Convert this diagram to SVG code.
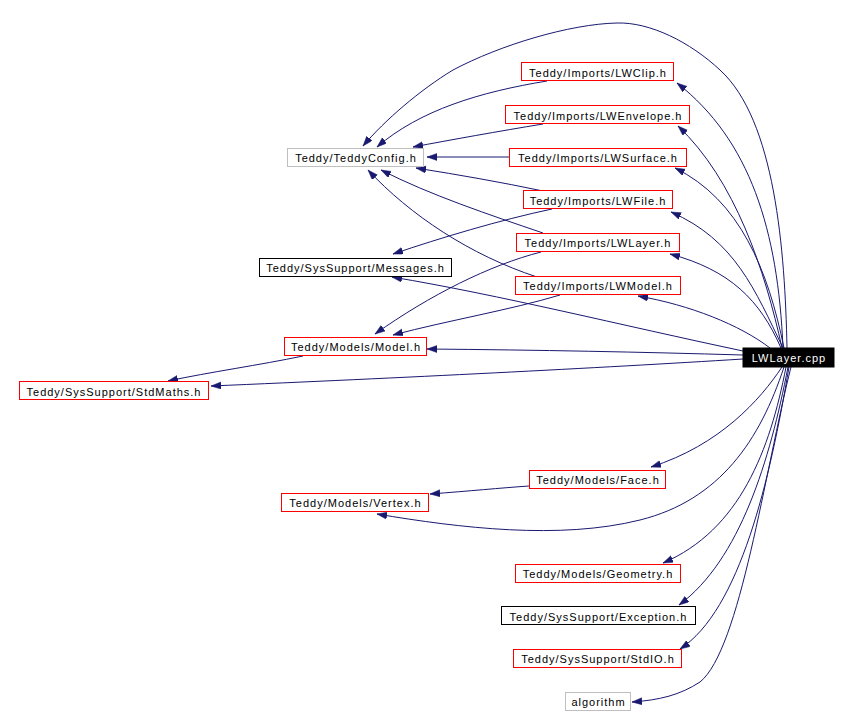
<svg xmlns="http://www.w3.org/2000/svg" width="849" height="717" viewBox="0 0 849 717">
<style>
.e{fill:none;stroke:#191970;stroke-width:1;marker-end:url(#a)}
rect.b{fill:#ffffff;stroke-width:1}
text{font-family:"Liberation Sans",Arial,sans-serif;font-size:11px;letter-spacing:1px;text-anchor:middle;fill:#000000}
</style>
<defs>
<marker id="a" markerUnits="userSpaceOnUse" markerWidth="11" markerHeight="8" refX="10" refY="3.5" orient="auto">
<path d="M0,0 L10,3.5 L0,7 z" fill="#191970" stroke="#191970" stroke-width="0.5"/>
</marker>
</defs>
<rect width="849" height="717" fill="#ffffff"/>
<g id="edges">
<path class="e" d="M787,348 C785,250 775,120 720,70 C690,42 650,22 617,23 C570,24 500,45 453,70 C420,90 385,120 363,146"/>
<path class="e" d="M783,348 C778,230 750,140 677,83"/>
<path class="e" d="M782,348 C765,270 735,180 678,126"/>
<path class="e" d="M784,348 C768,270 740,200 675,168"/>
<path class="e" d="M783,348 C755,290 735,240 671,212"/>
<path class="e" d="M781,348 C760,300 730,270 670,254"/>
<path class="e" d="M770,348 C740,325 690,305 638,296"/>
<path class="e" d="M743,351 C620,325 500,295 392,277"/>
<path class="e" d="M743,355 C640,352 540,350 427,349"/>
<path class="e" d="M743,359 C600,368 400,378 211,386"/>
<path class="e" d="M782,367 C760,400 720,445 651,467"/>
<path class="e" d="M784,367 C760,440 720,500 640,520 C560,540 460,528 377,514"/>
<path class="e" d="M786,367 C770,450 740,530 663,563"/>
<path class="e" d="M788,367 C770,460 740,560 679,605"/>
<path class="e" d="M789,367 C770,480 740,610 680,649"/>
<path class="e" d="M791,367 C765,470 740,650 700,682 C680,695 660,700 632,702"/>
<path class="e" d="M547,81 C480,92 420,110 377,147"/>
<path class="e" d="M543,124 C500,131 450,140 413,147"/>
<path class="e" d="M509,157 L427,157"/>
<path class="e" d="M543,191 C500,182 460,175 416,168"/>
<path class="e" d="M543,233 C490,215 430,195 381,170"/>
<path class="e" d="M537,277 C470,255 410,215 368,170"/>
<path class="e" d="M552,209 C500,220 440,238 393,254"/>
<path class="e" d="M541,252 C490,265 430,295 375,334"/>
<path class="e" d="M560,295 C510,310 450,320 393,335"/>
<path class="e" d="M303,356 C260,365 210,372 168,381"/>
<path class="e" d="M529,486 C500,488 470,491 430,494"/>
</g>
<g id="lwlayer_cpp"><rect x="743" y="348" width="91" height="19" fill="#000000" stroke="#000000"/><text x="789" y="362" style="fill:#ffffff">LWLayer.cpp</text></g>
<g id="teddyconfig"><rect class="b" x="287.5" y="148.5" width="136" height="18" stroke="#bfbfbf"/><text x="356" y="162">Teddy/TeddyConfig.h</text></g>
<g id="lwclip"><rect class="b" x="521.5" y="62.5" width="152" height="18" stroke="#ff0000"/><text x="598" y="76.5">Teddy/Imports/LWClip.h</text></g>
<g id="lwenvelope"><rect class="b" x="505.5" y="105.5" width="184" height="18" stroke="#ff0000"/><text x="598" y="119.5">Teddy/Imports/LWEnvelope.h</text></g>
<g id="lwsurface"><rect class="b" x="509.5" y="148.5" width="177" height="18" stroke="#ff0000"/><text x="598" y="162">Teddy/Imports/LWSurface.h</text></g>
<g id="lwfile"><rect class="b" x="523.5" y="190.5" width="149" height="18" stroke="#ff0000"/><text x="598" y="204.5">Teddy/Imports/LWFile.h</text></g>
<g id="lwlayer_h"><rect class="b" x="516.5" y="233.5" width="163" height="18" stroke="#ff0000"/><text x="598" y="247">Teddy/Imports/LWLayer.h</text></g>
<g id="messages"><rect class="b" x="259.5" y="258.5" width="192" height="18" stroke="#000000"/><text x="355.5" y="272">Teddy/SysSupport/Messages.h</text></g>
<g id="lwmodel"><rect class="b" x="515.5" y="276.5" width="165" height="18" stroke="#ff0000"/><text x="598" y="290">Teddy/Imports/LWModel.h</text></g>
<g id="model"><rect class="b" x="284.5" y="337.5" width="142" height="18" stroke="#ff0000"/><text x="356" y="351">Teddy/Models/Model.h</text></g>
<g id="stdmaths"><rect class="b" x="19.5" y="381.5" width="189" height="18" stroke="#ff0000"/><text x="114" y="395.5">Teddy/SysSupport/StdMaths.h</text></g>
<g id="face"><rect class="b" x="529.5" y="470.5" width="136" height="18" stroke="#ff0000"/><text x="598" y="484">Teddy/Models/Face.h</text></g>
<g id="vertex"><rect class="b" x="281.5" y="493.5" width="147" height="18" stroke="#ff0000"/><text x="355.5" y="507">Teddy/Models/Vertex.h</text></g>
<g id="geometry"><rect class="b" x="515.5" y="564.5" width="165" height="18" stroke="#ff0000"/><text x="598" y="578">Teddy/Models/Geometry.h</text></g>
<g id="exception"><rect class="b" x="501.5" y="606.5" width="194" height="18" stroke="#000000"/><text x="598.5" y="620.5">Teddy/SysSupport/Exception.h</text></g>
<g id="stdio"><rect class="b" x="513.5" y="649.5" width="168" height="18" stroke="#ff0000"/><text x="598" y="663">Teddy/SysSupport/StdIO.h</text></g>
<g id="algorithm"><rect class="b" x="565.5" y="692.5" width="65" height="18" stroke="#bfbfbf"/><text x="598.5" y="706">algorithm</text></g>
</svg>
